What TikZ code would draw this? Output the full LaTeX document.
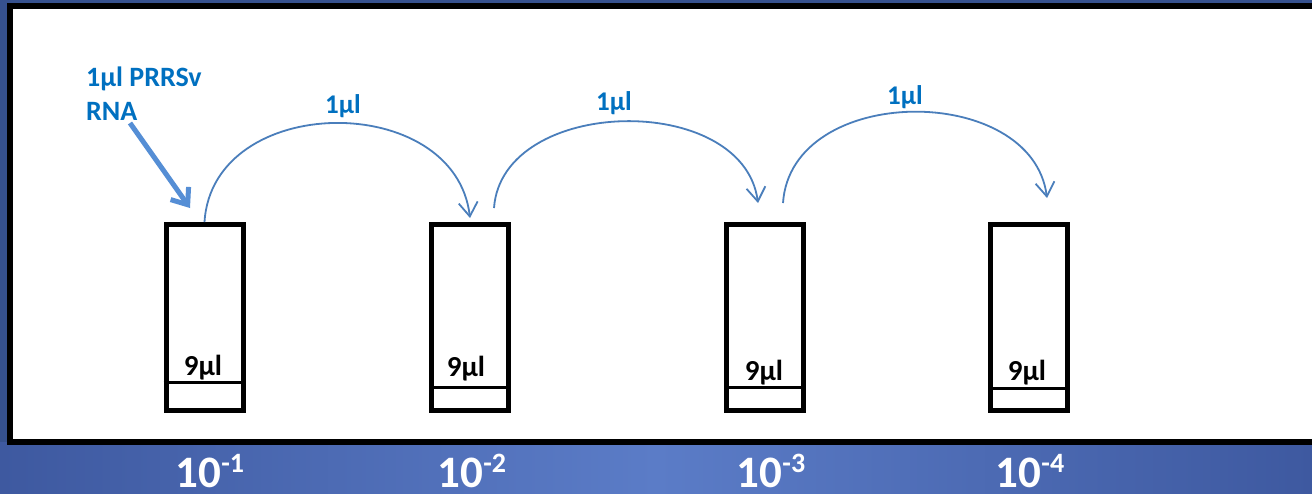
\documentclass[tikz,border=0pt]{standalone}
\usepackage{fontspec}
\setmainfont{Carlito}
\usetikzlibrary{arrows.meta,calc}
\definecolor{txtblue}{HTML}{0070C0}
\definecolor{arcblue}{HTML}{4A7EBB}
\definecolor{arrblue}{HTML}{558ED5}
\definecolor{bgdark}{HTML}{36518E}
\definecolor{bgedge}{HTML}{3E59A0}
\definecolor{bgmid}{HTML}{5B7CC7}
\begin{document}
\begin{tikzpicture}[x=1pt,y=-1pt,
  tube/.style={draw=black,line width=5pt,minimum width=77pt,minimum height=186pt,inner sep=0pt,fill=white},
  fillline/.style={draw=black,line width=3pt},
  vol/.style={font=\fontsize{29}{29}\selectfont\bfseries,inner sep=0pt,anchor=base},
  arclab/.style={font=\fontsize{27}{27}\selectfont\bfseries,text=txtblue,inner sep=0pt},
  dil/.style={font=\fontsize{45}{45}\selectfont\bfseries,text=white,inner sep=0pt,anchor=base,text depth=0pt},
  transfer/.style={draw=arcblue,line width=1.8pt,-{Straight Barb[length=14pt,width=19pt]}},
  inject/.style={draw=arrblue,line width=5pt,-{Straight Barb[length=14pt,width=22pt]}}]
\useasboundingbox (0,0) rectangle (1312,493);
% background
\fill[bgdark] (0,0) rectangle (1312,493);
\shade[left color=bgedge,right color=bgedge,middle color=bgmid] (0,442) rectangle (1312,493);
% panel
\draw[line width=6pt,fill=white] (10,6) rectangle (1340,442);
% tubes
\node[tube] (t1) at (204.5,317.5) {};
\node[tube] (t2) at (470,317.5) {};
\node[tube] (t3) at (765,317.5) {};
\node[tube] (t4) at (1029,317.5) {};
\draw[fillline] ($(t1.south west)+(0,-30.5)$) -- ($(t1.south east)+(0,-30.5)$);
\draw[fillline] ($(t2.south west)+(0,-25.5)$) -- ($(t2.south east)+(0,-25.5)$);
\draw[fillline] ($(t3.south west)+(0,-25.5)$) -- ($(t3.south east)+(0,-25.5)$);
\draw[fillline] ($(t4.south west)+(0,-25)$) -- ($(t4.south east)+(0,-25)$);
\node[vol] (v1) at (203,375) {9µl};
\node[vol] (v2) at (466,376) {9µl};
\node[vol] (v3) at (764,380) {9µl};
\node[vol] (v4) at (1027,380) {9µl};
% dilution labels
\node[dil] (d1) at (210,487) {10\raisebox{15pt}{\fontsize{28}{28}\selectfont -1}};
\node[dil] (d2) at (472,487) {10\raisebox{15pt}{\fontsize{28}{28}\selectfont -2}};
\node[dil] (d3) at (771,487) {10\raisebox{15pt}{\fontsize{28}{28}\selectfont -3}};
\node[dil] (d4) at (1030,487) {10\raisebox{15pt}{\fontsize{28}{28}\selectfont -4}};
% input label and arrow
\node[font=\fontsize{28}{34}\selectfont\bfseries,text=txtblue,align=left,anchor=north west,inner sep=0pt] (rna) at (86,67) {1µl PRRSv\\RNA};
\coordinate (a0) at (130,123);
\coordinate (a1) at (190,208);
\draw[inject] (a0) -- (a1);
% transfers
\coordinate (e1) at (470,218);
\coordinate (s2) at (494,208);
\coordinate (e2) at (758,203);
\coordinate (s3) at (783,203);
\coordinate (e3) at (1047,198);
\draw[transfer] (t1.north) .. controls +(8,-130) and +(-15,-128) .. (e1);
\draw[transfer] (s2) .. controls +(8,-112) and +(-15,-112) .. (e2);
\draw[transfer] (s3) .. controls +(8,-120) and +(-15,-116) .. (e3);
\node[arclab] (m1) at (343,106) {1µl};
\node[arclab] (m2) at (614,103) {1µl};
\node[arclab] (m3) at (905,97) {1µl};
\end{tikzpicture}
\end{document}
